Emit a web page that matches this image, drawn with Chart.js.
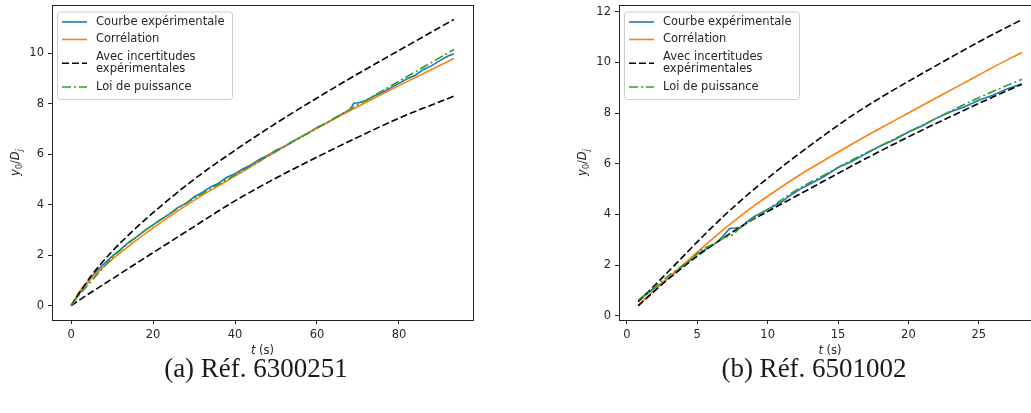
<!DOCTYPE html>
<html>
<head>
<meta charset="utf-8">
<script src="https://cdn.jsdelivr.net/npm/chart.js@4.4.1/dist/chart.umd.min.js"></script>
<style>
  body { margin: 0; width: 1031px; height: 413px; overflow: hidden; background: #fff; position: relative; }
  canvas { position: absolute; top: 0; }
  #chartA { left: 0; }
  #chartB { left: 520px; }
  .cap { position: absolute; top: 353px; line-height: 30px; font-family: "Liberation Serif", serif; font-size: 27px; color: #1a1a1a; transform: translateX(-50%); white-space: nowrap; }
</style>
</head>
<body>
<canvas id="chartA" width="520" height="365"></canvas>
<canvas id="chartB" width="540" height="365"></canvas>
<div class="cap" style="left:256px">(a) Réf. 6300251</div>
<div class="cap" style="left:814px">(b) Réf. 6501002</div>
<script>
  const legendLabels = ['Courbe expérimentale', 'Corrélation', ['Avec incertitudes', 'expérimentales'], 'Loi de puissance'];

  // (a) Réf. 6300251
  const tA = [0, 2, 5, 10, 15, 20, 30, 40, 50, 60, 70, 80, 93.4];
  const upperA = [0, 0.5, 1.2, 2.15, 2.95, 3.68, 5.0, 6.15, 7.22, 8.22, 9.18, 10.1, 11.33];
  const lowerA = [0, 0.22, 0.54, 1.06, 1.58, 2.1, 3.13, 4.15, 5.05, 5.88, 6.67, 7.42, 8.29];
  const orangeA = [0, 0.55, 1.09, 1.83, 2.48, 3.08, 4.17, 5.13, 6.1, 7.02, 7.88, 8.71, 9.78];
  const tGreenA = [0, 2, 3, 5, 10, 15, 20, 30, 40, 50, 60, 70, 80, 93.4];
  const greenA = [0, 0.42, 0.62, 0.98, 1.9, 2.6, 3.2, 4.25, 5.17, 6.11, 7.03, 7.95, 8.88, 10.14];
  const tBlueA = [0, 1, 2, 3, 4, 5, 6, 8, 10, 12, 14, 16, 18, 20, 22, 24, 26, 28, 30, 32, 34, 36, 38, 40, 42, 44, 46, 48, 50,
    52, 54, 56, 58, 60, 62, 64, 66, 68, 69, 70, 72, 74, 76, 78, 80, 82, 84, 86, 88, 90, 92, 93.4];
  const blueA = [0, 0.25, 0.5, 0.72, 0.9, 1.12, 1.32, 1.66, 1.95, 2.22, 2.5, 2.72, 2.98, 3.2, 3.42, 3.62, 3.88, 4.05, 4.3, 4.48,
    4.7, 4.85, 5.08, 5.22, 5.42, 5.58, 5.8, 5.95, 6.15, 6.3, 6.5, 6.68, 6.85, 7.05, 7.2, 7.38, 7.58, 7.75, 8.02, 8.02, 8.12,
    8.3, 8.45, 8.62, 8.8, 8.98, 9.12, 9.35, 9.5, 9.7, 9.88, 9.97];
  const xTicksA = [0, 20, 40, 60, 80];
  const yTicksA = [0, 2, 4, 6, 8, 10];

  // (b) Réf. 6501002
  const tB = [0.8, 2, 3, 4, 5, 6, 7, 8, 9, 10, 12, 14, 16, 18, 20, 22, 24, 26, 28.06];
  const upperB = [0.56, 1.22, 1.78, 2.35, 2.92, 3.47, 4.0, 4.5, 4.98, 5.43, 6.3, 7.12, 7.9, 8.6, 9.25, 9.88, 10.5, 11.1, 11.68];
  const lowerB = [0.4, 1.0, 1.48, 1.93, 2.36, 2.76, 3.13, 3.48, 3.82, 4.12, 4.72, 5.32, 5.92, 6.5, 7.06, 7.6, 8.12, 8.63, 9.13];
  const orangeB = [0.43, 1.03, 1.53, 2.02, 2.52, 3.0, 3.47, 3.91, 4.33, 4.72, 5.46, 6.13, 6.78, 7.4, 8.0, 8.6, 9.2, 9.8, 10.39];
  const tGreenB = [0.8, 2, 3, 4, 4.9, 5, 6, 7, 7.5, 8, 9, 10, 12, 14, 16, 18, 20, 22, 24, 26, 28.06];
  const greenB = [0.62, 1.15, 1.6, 2.0, 2.4, 2.48, 2.8, 3.1, 3.2, 3.45, 3.85, 4.2, 4.95, 5.55, 6.15, 6.7, 7.25, 7.8, 8.35, 8.85, 9.33];
  const tBlueB = [0.8, 1.5, 2.5, 3.5, 4.5, 5, 5.5, 6, 6.5, 7, 7.3, 7.7, 8.1, 8.5, 9, 10, 11, 11.5, 12.3, 13, 14, 15, 16, 17,
    18, 19, 20, 21, 22, 23, 24, 25, 26, 27, 28.06];
  const blueB = [0.6, 0.9, 1.3, 1.75, 2.2, 2.45, 2.6, 2.75, 2.95, 3.25, 3.45, 3.47, 3.5, 3.7, 3.9, 4.2, 4.5, 4.71, 5.0, 5.2,
    5.5, 5.85, 6.1, 6.4, 6.7, 6.95, 7.25, 7.5, 7.8, 8.05, 8.25, 8.5, 8.7, 8.95, 9.15];
  const xTicksB = [0, 5, 10, 15, 20, 25];
  const yTicksB = [0, 2, 4, 6, 8, 10, 12];

  const BLUE = '#1f77b4', ORANGE = '#ff7f0e', GREEN = '#2ca02c', BLACK = '#000000';
  const DASH = [7, 3], DASHDOT = [9, 3, 2, 3];
  const FONT = '"DejaVu Sans"';
  const TXT = '#262626';

  const pts = (ts, ys) => ts.map((t, i) => ({ x: t, y: ys[i] }));

  function datasets(blue, orange, upper, lower, green) {
    const smooth = { cubicInterpolationMode: 'monotone' };
    return [
      { label: legendLabels[0], data: blue, borderColor: BLUE, order: 4 },
      { label: legendLabels[1], data: orange, borderColor: ORANGE, order: 3, ...smooth },
      { label: 'Avec incertitudes expérimentales', data: upper, borderColor: BLACK, borderDash: DASH, order: 2, ...smooth },
      { label: 'Avec incertitudes expérimentales', data: lower, borderColor: BLACK, borderDash: DASH, order: 1, ...smooth },
      { label: legendLabels[3], data: green, borderColor: GREEN, borderDash: DASHDOT, order: 0, ...smooth },
    ];
  }

  // draw text made of pieces with their own font and vertical shift, centred on x
  function richText(ctx, parts, x, y) {
    let w = 0;
    parts.forEach(p => { ctx.font = p[1]; w += ctx.measureText(p[0]).width; });
    let cx = x - w / 2;
    ctx.textAlign = 'left';
    ctx.textBaseline = 'alphabetic';
    parts.forEach(p => {
      ctx.font = p[1];
      ctx.fillText(p[0], cx, y + (p[2] || 0));
      cx += ctx.measureText(p[0]).width;
    });
  }

  const legendStyle = [
    { color: BLUE, dash: [] },
    { color: ORANGE, dash: [] },
    { color: BLACK, dash: DASH },
    { color: GREEN, dash: DASHDOT },
  ];

  const decor = {
    id: 'decor',
    afterDraw(chart) {
      const { ctx, chartArea: a } = chart;
      ctx.save();
      // frame
      ctx.strokeStyle = '#222';
      ctx.lineWidth = 1;
      ctx.setLineDash([]);
      const l = Math.round(a.left) + 0.5, t = Math.round(a.top) + 0.5;
      ctx.strokeRect(l, t, Math.round(a.right) - Math.round(a.left), Math.round(a.bottom) - Math.round(a.top));

      ctx.fillStyle = TXT;
      // y title
      ctx.save();
      ctx.translate(a.left - 33, (a.top + a.bottom) / 2);
      ctx.rotate(-Math.PI / 2);
      richText(ctx, [
        ['y', 'italic 11.5px ' + FONT],
        ['0', '8px ' + FONT, 2.5],
        ['/', '11.5px ' + FONT],
        ['D', 'italic 11.5px ' + FONT],
        ['j', 'italic 8px ' + FONT, 2.5],
      ], 0, 0);
      ctx.restore();
      // x title
      richText(ctx, [['t', 'italic 11.5px ' + FONT], [' (s)', '11.5px ' + FONT]], (a.left + a.right) / 2, a.bottom + 34);

      // legend
      const lx = a.left + 5.5, ly = a.top + 7;
      ctx.beginPath();
      ctx.roundRect(lx, ly, 175, 87.5, 3);
      ctx.fillStyle = 'rgba(255,255,255,0.8)';
      ctx.fill();
      ctx.strokeStyle = '#cccccc';
      ctx.stroke();
      let y = ly + 10;
      legendLabels.forEach((lab, i) => {
        const lines = Array.isArray(lab) ? lab : [lab];
        const cy = y + (lines.length - 1) * 6.25;
        ctx.strokeStyle = legendStyle[i].color;
        ctx.lineWidth = 1.6;
        ctx.setLineDash(legendStyle[i].dash);
        ctx.beginPath();
        ctx.moveTo(lx + 4.5, cy);
        ctx.lineTo(lx + 29.5, cy);
        ctx.stroke();
        ctx.setLineDash([]);
        ctx.fillStyle = TXT;
        ctx.font = '11.5px ' + FONT;
        ctx.textAlign = 'left';
        ctx.textBaseline = 'middle';
        lines.forEach((s, k) => ctx.fillText(s, lx + 38.5, y + k * 12.5));
        y += lines.length * 12.5 + 5;
      });
      ctx.restore();
    }
  };

  function axis(min, max, ticks, fit) {
    return {
      type: 'linear',
      min: min,
      max: max,
      border: { display: false },
      grid: { display: true, drawOnChartArea: false, drawTicks: true, tickLength: 4, tickColor: '#222', lineWidth: 1 },
      ticks: { color: TXT, padding: 4, font: { family: 'DejaVu Sans', size: 11.5 }, maxRotation: 0 },
      afterBuildTicks: s => { s.ticks = ticks.map(v => ({ value: v })); },
      afterFit: s => {
        fit(s);
        s.paddingTop = 0; s.paddingBottom = 0; s.paddingLeft = 0; s.paddingRight = 0;
      },
    };
  }

  function makeChart(id, ds, xr, yr, xTicks, yTicks, yWidth, padRight) {
    return new Chart(document.getElementById(id), {
      type: 'line',
      data: { datasets: ds },
      options: {
        responsive: false,
        animation: false,
        devicePixelRatio: 1,
        events: [],
        layout: { padding: { top: 5, right: padRight, left: 0, bottom: 0 } },
        elements: { point: { radius: 0 }, line: { borderWidth: 1.6, tension: 0, fill: false } },
        plugins: { legend: { display: false }, tooltip: { enabled: false } },
        scales: {
          x: axis(xr[0], xr[1], xTicks, s => { s.height = 45; }),
          y: axis(yr[0], yr[1], yTicks, s => { s.width = yWidth; }),
        },
      },
      plugins: [decor],
    });
  }

  makeChart('chartA',
    datasets(pts(tBlueA, blueA), pts(tA, orangeA), pts(tA, upperA), pts(tA, lowerA), pts(tGreenA, greenA)),
    [-4.67, 98.07], [-0.567, 11.9], xTicksA, yTicksA, 52, 47);

  makeChart('chartB',
    datasets(pts(tBlueB, blueB), pts(tB, orangeB), pts(tB, upperB), pts(tB, lowerB), pts(tGreenB, greenB)),
    [-0.56, 29.42], [-0.16, 12.26], xTicksB, yTicksB, 99, 19);
</script>
</body>
</html>
